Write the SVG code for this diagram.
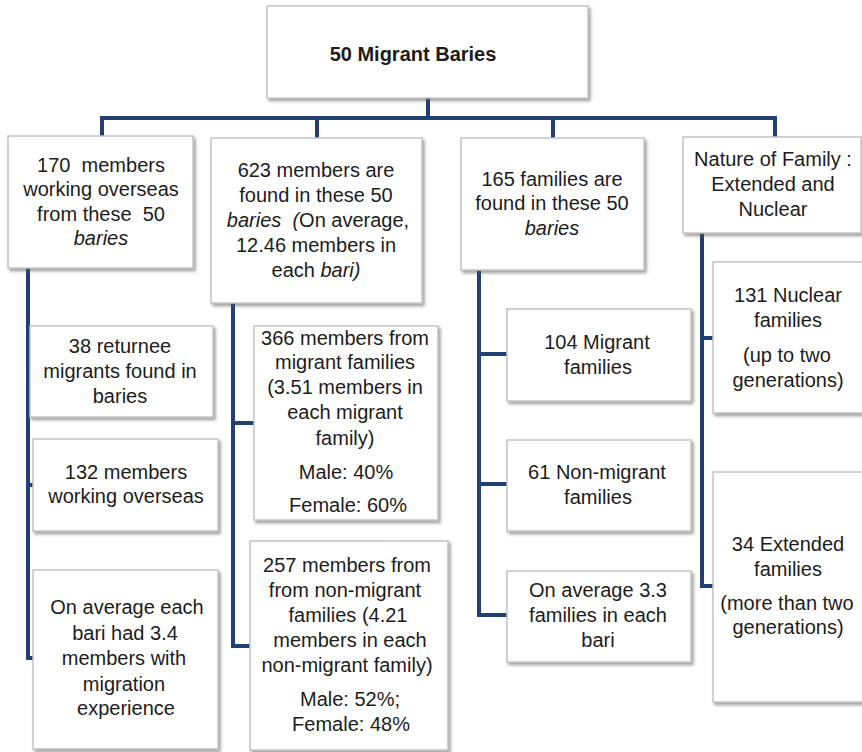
<svg xmlns="http://www.w3.org/2000/svg" width="862" height="752" viewBox="0 0 862 752">
  <style>
    .box { fill: #ffffff; stroke: #c4c4c4; stroke-width: 1.5; filter: url(#shadow); }
    .t { font-family: "Liberation Sans", Arial, sans-serif; font-size: 20px; fill: #1c1c1c; text-anchor: middle; white-space: pre; }
    .title { font-weight: bold; }
    .it { font-style: italic; }
    .conn { fill: none; stroke: #213f74; stroke-width: 4; stroke-linejoin: miter; stroke-linecap: butt; }
  </style>
  <defs>
    <filter id="shadow" x="-10%" y="-10%" width="125%" height="125%">
      <feDropShadow dx="2" dy="2.5" stdDeviation="1.8" flood-color="#555555" flood-opacity="0.55"/>
    </filter>
  </defs>
  <rect width="862" height="752" fill="#ffffff"/>

  <!-- connectors -->
  <g id="connectors">
    <path class="conn" d="M428,98 V118"/>
    <path class="conn" d="M102,136 V118 H775 V137"/>
    <path class="conn" d="M317,118 V138"/>
    <path class="conn" d="M553,118 V138"/>
    <!-- column 1 -->
    <path class="conn" d="M28,268 V658 H33"/>
    <path class="conn" d="M28,485 H33"/>
    <!-- column 2 -->
    <path class="conn" d="M233,303 V646 H250"/>
    <path class="conn" d="M233,423 H254"/>
    <!-- column 3 -->
    <path class="conn" d="M479,270 V615 H507"/>
    <path class="conn" d="M479,354 H507"/>
    <path class="conn" d="M479,484 H507"/>
    <!-- column 4 -->
    <path class="conn" d="M702,233 V586 H713"/>
    <path class="conn" d="M702,338 H713"/>
  </g>

  <!-- root -->
  <g id="root">
    <rect class="box" x="267" y="6" width="321" height="92"/>
    <text class="t title" x="413" y="61">50 Migrant Baries</text>
  </g>

  <!-- first level -->
  <g id="overseas">
    <rect class="box" x="8" y="136" width="185" height="132"/>
    <text class="t" x="101" y="172">170  members</text>
    <text class="t" x="101" y="196">working overseas</text>
    <text class="t" x="101" y="221">from these  50</text>
    <text class="t it" x="101" y="245">baries</text>
  </g>
  <g id="members">
    <rect class="box" x="211" y="138" width="211" height="165"/>
    <text class="t" x="316" y="177">623 members are</text>
    <text class="t" x="316" y="202">found in these 50</text>
    <text class="t" x="318" y="227"><tspan class="it">baries  (</tspan>On average,</text>
    <text class="t" x="316" y="252">12.46 members in</text>
    <text class="t" x="316" y="277">each <tspan class="it">bari)</tspan></text>
  </g>
  <g id="families">
    <rect class="box" x="461" y="138" width="183" height="132"/>
    <text class="t" x="552" y="186">165 families are</text>
    <text class="t" x="552" y="210">found in these 50</text>
    <text class="t it" x="552" y="235">baries</text>
  </g>
  <g id="nature">
    <rect class="box" x="683" y="137" width="178" height="96"/>
    <text class="t" x="773" y="166">Nature of Family :</text>
    <text class="t" x="773" y="191">Extended and</text>
    <text class="t" x="773" y="216">Nuclear</text>
  </g>

  <!-- column 1 children -->
  <g id="returnee">
    <rect class="box" x="30" y="326" width="183" height="91"/>
    <text class="t" x="120" y="353">38 returnee</text>
    <text class="t" x="120" y="378">migrants found in</text>
    <text class="t" x="120" y="403">baries</text>
  </g>
  <g id="working">
    <rect class="box" x="33" y="439" width="185" height="92"/>
    <text class="t" x="126" y="479">132 members</text>
    <text class="t" x="126" y="503">working overseas</text>
  </g>
  <g id="average-bari">
    <rect class="box" x="33" y="570" width="185" height="179"/>
    <text class="t" x="127" y="614">On average each</text>
    <text class="t" x="125" y="640">bari had 3.4</text>
    <text class="t" x="124" y="665">members with</text>
    <text class="t" x="124" y="691">migration</text>
    <text class="t" x="126" y="715">experience</text>
  </g>

  <!-- column 2 children -->
  <g id="migrant-members">
    <rect class="box" x="254" y="326" width="184" height="194"/>
    <text class="t" x="345" y="345">366 members from</text>
    <text class="t" x="345" y="369">migrant families</text>
    <text class="t" x="345" y="394">(3.51 members in</text>
    <text class="t" x="345" y="419">each migrant</text>
    <text class="t" x="345" y="445">family)</text>
    <text class="t" x="346" y="479">Male: 40%</text>
    <text class="t" x="348" y="512">Female: 60%</text>
  </g>
  <g id="nonmigrant-members">
    <rect class="box" x="250" y="541" width="198" height="209"/>
    <text class="t" x="347" y="572">257 members from</text>
    <text class="t" x="345" y="597">from non-migrant</text>
    <text class="t" x="348" y="622">families (4.21</text>
    <text class="t" x="350" y="647">members in each</text>
    <text class="t" x="347" y="672">non-migrant family)</text>
    <text class="t" x="350" y="706">Male: 52%;</text>
    <text class="t" x="351" y="731">Female: 48%</text>
  </g>

  <!-- column 3 children -->
  <g id="migrant-families">
    <rect class="box" x="507" y="309" width="184" height="92"/>
    <text class="t" x="597" y="349">104 Migrant</text>
    <text class="t" x="598" y="374">families</text>
  </g>
  <g id="nonmigrant-families">
    <rect class="box" x="507" y="440" width="184" height="91"/>
    <text class="t" x="597" y="479">61 Non-migrant</text>
    <text class="t" x="598" y="504">families</text>
  </g>
  <g id="average-families">
    <rect class="box" x="507" y="571" width="184" height="91"/>
    <text class="t" x="598" y="597">On average 3.3</text>
    <text class="t" x="598" y="622">families in each</text>
    <text class="t" x="598" y="647">bari</text>
  </g>

  <!-- column 4 children -->
  <g id="nuclear">
    <rect class="box" x="713" y="262" width="150" height="151"/>
    <text class="t" x="788" y="302">131 Nuclear</text>
    <text class="t" x="788" y="327">families</text>
    <text class="t" x="787" y="362">(up to two</text>
    <text class="t" x="788" y="387">generations)</text>
  </g>
  <g id="extended">
    <rect class="box" x="713" y="472" width="150" height="230"/>
    <text class="t" x="788" y="551">34 Extended</text>
    <text class="t" x="788" y="576">families</text>
    <text class="t" x="787" y="610">(more than two</text>
    <text class="t" x="788" y="634">generations)</text>
  </g>
</svg>
